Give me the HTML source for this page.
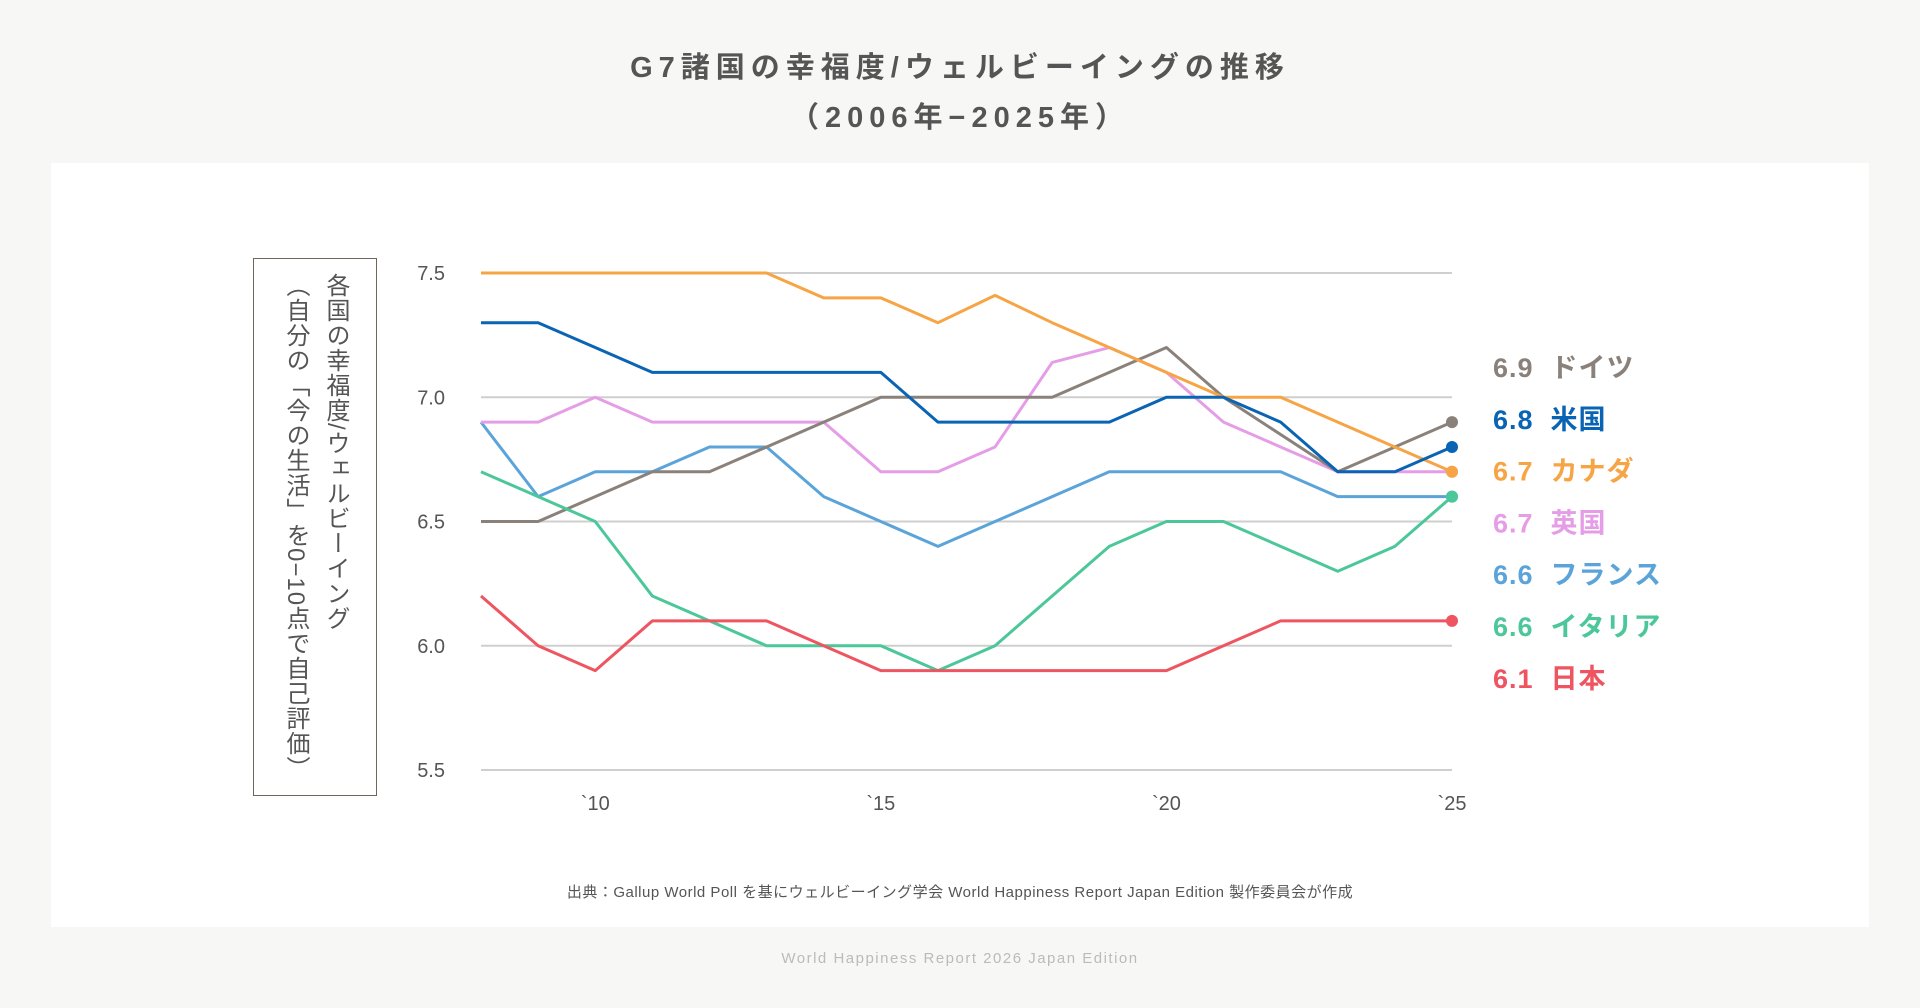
<!DOCTYPE html>
<html><head><meta charset="utf-8">
<style>
body{margin:0;width:1920px;height:1008px;background:#f7f7f5;font-family:"Liberation Sans","Noto Sans CJK JP",sans-serif;overflow:hidden;position:relative}
.title{position:absolute;left:0;width:1920px;text-align:center;color:#555;font-size:29px;font-weight:bold;letter-spacing:6px}
#panel{position:absolute;left:51px;top:163px;width:1818px;height:764px;background:#fff}
#ybox{position:absolute;left:253px;top:258px;width:124px;height:538px;border:1.5px solid #6e655d;box-sizing:border-box;display:flex;justify-content:center;align-items:center;}
#ybox div{writing-mode:vertical-rl;color:#555;font-size:24px;line-height:40px;letter-spacing:1px}
.src{position:absolute;left:0;width:1920px;text-align:center;color:#555;font-size:15px;letter-spacing:0.5px}
.foot{position:absolute;left:0;width:1920px;text-align:center;color:#bbb;font-size:15px;letter-spacing:1.5px;top:950px}
svg{position:absolute;left:0;top:0}
</style></head><body>
<div class="title" style="top:44px">G7諸国の幸福度/ウェルビーイングの推移</div>
<div class="title" style="top:94px">（2006年−2025年）</div>
<div id="panel"></div>
<div id="ybox"><div>各国の幸福度/ウェルビーイング<br>（自分の「今の生活」を0−10点で自己評価）</div></div>
<svg id="chart" width="1920" height="1008"></svg>
<div class="src" style="top:881px">出典：Gallup World Poll を基にウェルビーイング学会 World Happiness Report Japan Edition 製作委員会が作成</div>
<div class="foot">World Happiness Report 2026 Japan Edition</div>
<script>
const years=[2008,2009,2010,2011,2012,2013,2014,2015,2016,2017,2018,2019,2020,2021,2022,2023,2024,2025];
const yTicks=[5.5,6.0,6.5,7.0,7.5];
const xTicks=[2010,2015,2020,2025];
const xTickLabels=["`10","`15","`20","`25"];
const canada=[7.5,7.5,7.5,7.5,7.5,7.5,7.4,7.4,7.3,7.41,7.3,7.2,7.1,7.0,7.0,6.9,6.8,6.7];
const usa=[7.3,7.3,7.2,7.1,7.1,7.1,7.1,7.1,6.9,6.9,6.9,6.9,7.0,7.0,6.9,6.7,6.7,6.8];
const germany=[6.5,6.5,6.6,6.7,6.7,6.8,6.9,7.0,7.0,7.0,7.0,7.1,7.2,7.0,6.85,6.7,6.8,6.9];
const uk=[6.9,6.9,7.0,6.9,6.9,6.9,6.9,6.7,6.7,6.8,7.14,7.2,7.1,6.9,6.8,6.7,6.7,6.7];
const france=[6.9,6.6,6.7,6.7,6.8,6.8,6.6,6.5,6.4,6.5,6.6,6.7,6.7,6.7,6.7,6.6,6.6,6.6];
const italy=[6.7,6.6,6.5,6.2,6.1,6.0,6.0,6.0,5.9,6.0,6.2,6.4,6.5,6.5,6.4,6.3,6.4,6.6];
const japan=[6.2,6.0,5.9,6.1,6.1,6.1,6.0,5.9,5.9,5.9,5.9,5.9,5.9,6.0,6.1,6.1,6.1,6.1];
const seriesNames=["ドイツ","米国","カナダ","英国","フランス","イタリア","日本"];
const seriesData=[germany,usa,canada,uk,france,italy,japan];
const seriesColors=["#8a817b","#0a64b4","#f7a445","#e59ee6","#5ba4da","#4cc79a","#ee5560"];
const drawOrder=[4,3,0,2,1,5,6];
const NS="http://www.w3.org/2000/svg";
const svg=document.getElementById('chart');
const X=y=>481+(y-2008)*(1452-481)/17;
const Y=v=>770-(v-5.5)*(770-273)/2;
function mk(t,a){const e=document.createElementNS(NS,t);for(const k in a)e.setAttribute(k,a[k]);svg.appendChild(e);return e;}
yTicks.forEach(v=>{
 const l=mk('line',{x1:481,x2:1452,y1:Y(v),y2:Y(v),stroke:'#cfcfcf','stroke-width':2});
 
 
 const t=mk('text',{x:445,y:Y(v)+7,'text-anchor':'end','font-size':20,fill:'#555'});
 t.textContent=v.toFixed(1);
 
 
});
xTicks.forEach((yr,i)=>{
 const t=mk('text',{x:X(yr),y:810,'text-anchor':'middle','font-size':20,fill:'#555'});
 t.textContent=xTickLabels[i];
 
 
});
drawOrder.forEach(i=>{
 const d=seriesData[i];
 const p=mk('polyline',{points:d.map((v,j)=>X(years[j])+','+Y(v)).join(' '),fill:'none',stroke:seriesColors[i],'stroke-width':3,'stroke-linejoin':'round'});
 
 
 const c=mk('circle',{cx:X(years[years.length-1]),cy:Y(d[d.length-1]),r:6,fill:seriesColors[i]});
 
 
});
seriesNames.forEach((n,i)=>{
 const d=seriesData[i];
 const t=mk('text',{x:1493,y:377+i*51.8,'font-size':27,'font-weight':'bold',fill:seriesColors[i],'letter-spacing':1});
 t.textContent=d[d.length-1].toFixed(1)+'  '+n;
 t.setAttribute('xml:space','preserve');
 t.style.whiteSpace='pre';
 
 
});
</script>
</body></html>
